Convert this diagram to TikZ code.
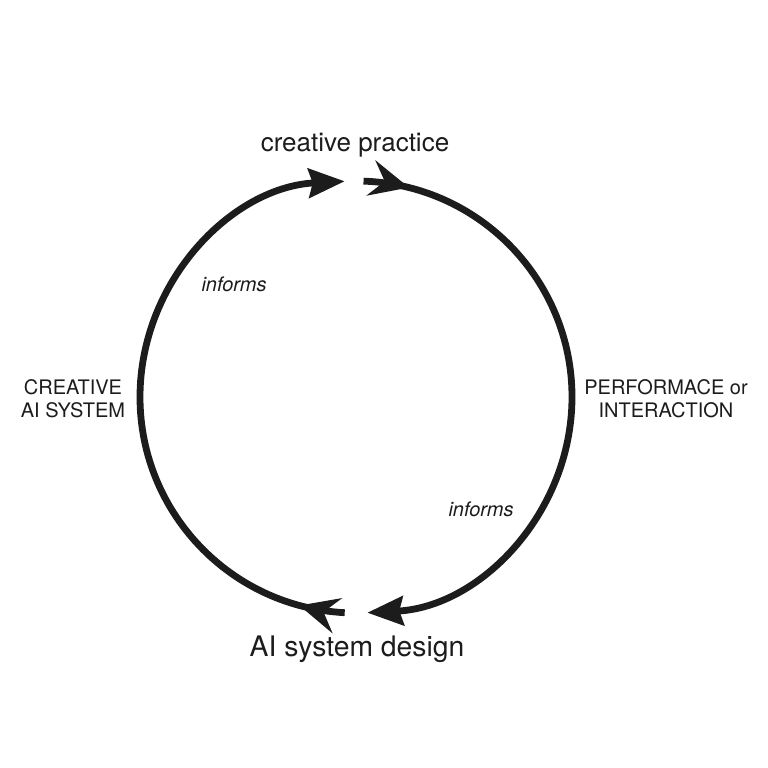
\documentclass[tikz,border=0pt]{standalone}
\usepackage{fontspec}
\setmainfont{TeX Gyre Heros}
\usetikzlibrary{arrows.meta,decorations.markings}
\definecolor{ink}{HTML}{1C1C1C}

\begin{document}
\begin{tikzpicture}%
[x=1pt, y=1pt,%
loop arc/.style={draw=ink, line width=6.8pt, -{Stealth[length=36pt,width=29pt,inset=4pt]},%
  postaction={decorate, decoration={markings, mark=at position 46pt with {\arrow{Stealth[length=39pt,width=36pt,inset=14pt]}}}}},%
stage/.style={text=ink, inner sep=0pt, anchor=base, font=\fontsize{26}{30}\selectfont},%
caps/.style={text=ink, inner sep=0pt, anchor=base, align=center, font=\fontsize{20}{23.5}\selectfont},%
note/.style={text=ink, inner sep=0pt, anchor=base, font=\fontsize{20}{24}\selectfont\itshape}]
\useasboundingbox (0,0) rectangle (768,768);
\coordinate (hub) at (356,371);
\path (hub) ++(267:216) coordinate (bl);
\path (hub) ++(88:216) coordinate (tr);
\node[stage] (practice) at (355,616) {creative practice};
\node[stage, font=\fontsize{28.3}{33}\selectfont] (design) at (357,111) {AI system design};
\node[caps] (system) at (73,350) {CREATIVE\\AI SYSTEM};
\node[caps] (perform) at (666,350) {PERFORMACE or\\INTERACTION};
\node[note] (informl) at (234,476) {informs};
\node[note] (informr) at (481,251) {informs};
\draw[loop arc] (bl) arc[start angle=267, end angle=93, radius=216];
\draw[loop arc] (tr) arc[start angle=88, end angle=-87, radius=216];
\end{tikzpicture}
\end{document}
